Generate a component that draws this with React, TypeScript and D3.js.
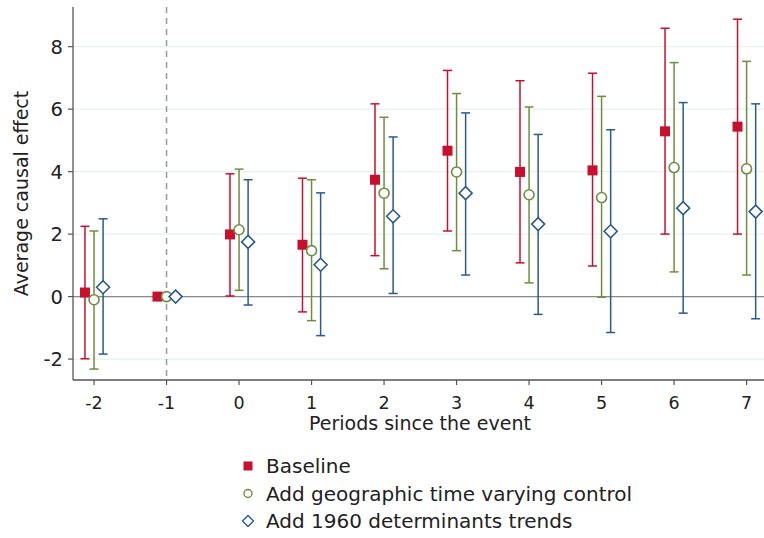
import React from "react";
import * as d3 from "d3";

// Event-time periods
const periods = [-2, -1, 0, 1, 2, 3, 4, 5, 6, 7];

// Baseline
const baseEst = [0.13, 0, 1.99, 1.66, 3.74, 4.67, 3.99, 4.04, 5.29, 5.44];
const baseLo = [-1.99, 0, 0.02, -0.49, 1.31, 2.1, 1.08, 0.98, 2.0, 2.0];
const baseHi = [2.25, 0, 3.93, 3.79, 6.17, 7.24, 6.91, 7.15, 8.59, 8.88];

// Add geographic time varying control
const geoEst = [-0.1, 0, 2.14, 1.47, 3.31, 3.99, 3.26, 3.17, 4.13, 4.09];
const geoLo = [-2.32, 0, 0.2, -0.77, 0.89, 1.47, 0.44, -0.02, 0.79, 0.69];
const geoHi = [2.1, 0, 4.08, 3.74, 5.74, 6.5, 6.07, 6.41, 7.49, 7.53];

// Add 1960 determinants trends
const trendEst = [0.3, 0, 1.75, 1.02, 2.57, 3.31, 2.32, 2.09, 2.83, 2.72];
const trendLo = [-1.84, 0, -0.27, -1.25, 0.1, 0.69, -0.57, -1.15, -0.53, -0.71];
const trendHi = [2.49, 0, 3.74, 3.32, 5.11, 5.88, 5.19, 5.34, 6.21, 6.17];

const yTicks = [-2, 0, 2, 4, 6, 8];
const seriesNames = [
  "Baseline",
  "Add geographic time varying control",
  "Add 1960 determinants trends",
];

const RED = "#c8102e";
const GREEN = "#6d8f3c";
const BLUE = "#2a5b8a";
const FONT = "DejaVu Sans";
const FS = 19.5;

const W = 764;
const H = 538;
const left = 73;
const top = 7;
const bottom = 380;

const x = d3.scaleLinear().domain([-2.29, 7.24]).range([left, W]);
const y = d3.scaleLinear().domain([-2.67, 9.27]).range([bottom, top]);

type Series = {
  name: string;
  est: number[];
  lo: number[];
  hi: number[];
  color: string;
  shape: "square" | "circle" | "diamond";
  offset: number;
};

const series: Series[] = [
  { name: seriesNames[0], est: baseEst, lo: baseLo, hi: baseHi, color: RED, shape: "square", offset: -0.125 },
  { name: seriesNames[1], est: geoEst, lo: geoLo, hi: geoHi, color: GREEN, shape: "circle", offset: 0 },
  { name: seriesNames[2], est: trendEst, lo: trendLo, hi: trendHi, color: BLUE, shape: "diamond", offset: 0.125 },
];

function Marker({ shape, cx, cy, color }: { shape: string; cx: number; cy: number; color: string }) {
  if (shape === "square") {
    return <rect x={cx - 5} y={cy - 5} width={10} height={10} fill={color} />;
  }
  if (shape === "circle") {
    return <circle cx={cx} cy={cy} r={5} fill="white" stroke={color} strokeWidth={1.6} />;
  }
  const r = 6.5;
  return (
    <path
      d={`M${cx},${cy - r}L${cx + r},${cy}L${cx},${cy + r}L${cx - r},${cy}Z`}
      fill="white"
      stroke={color}
      strokeWidth={1.6}
    />
  );
}

export default function App() {
  const cap = 4.5;
  return (
    <svg
      width={W}
      height={H}
      fontFamily={FONT}
      style={{ position: "absolute", left: 0, top: 0 }}
    >
      <rect width={W} height={H} fill="white" />
      {/* horizontal gridlines */}
      {yTicks.map((t) => (
        <line key={t} x1={left} x2={W} y1={y(t)} y2={y(t)} stroke="#e8f1f2" strokeWidth={1.2} />
      ))}
      {/* zero reference */}
      <line x1={left} x2={W} y1={y(0)} y2={y(0)} stroke="#8a8a8a" strokeWidth={1.2} />
      {/* event marker */}
      <line
        x1={x(-1)}
        x2={x(-1)}
        y1={top}
        y2={bottom}
        stroke="#999"
        strokeWidth={1.5}
        strokeDasharray="6,5"
      />
      {/* confidence intervals */}
      {series.map((s) =>
        periods.map((p, i) => {
          if (s.lo[i] === s.hi[i]) return null;
          const cx = x(p + s.offset);
          return (
            <g key={s.name + p} stroke={s.color} strokeWidth={1.5}>
              <line x1={cx} x2={cx} y1={y(s.lo[i])} y2={y(s.hi[i])} />
              <line x1={cx - cap} x2={cx + cap} y1={y(s.lo[i])} y2={y(s.lo[i])} />
              <line x1={cx - cap} x2={cx + cap} y1={y(s.hi[i])} y2={y(s.hi[i])} />
            </g>
          );
        })
      )}
      {/* point estimates */}
      {series.map((s) =>
        periods.map((p, i) => (
          <Marker key={s.name + "m" + p} shape={s.shape} cx={x(p + s.offset)} cy={y(s.est[i])} color={s.color} />
        ))
      )}
      {/* axes */}
      <line x1={left} x2={left} y1={top} y2={bottom} stroke="#555" strokeWidth={1.3} />
      <line x1={left} x2={W} y1={bottom} y2={bottom} stroke="#555" strokeWidth={1.3} />
      {yTicks.map((t) => (
        <g key={"yt" + t}>
          <line x1={left - 5} x2={left} y1={y(t)} y2={y(t)} stroke="#555" strokeWidth={1.2} />
          <text x={left - 10} y={y(t)} dy="0.36em" textAnchor="end" fontSize={FS} fill="#222" fontFamily={FONT}>
            {t}
          </text>
        </g>
      ))}
      {periods.map((p) => (
        <g key={"xt" + p}>
          <line x1={x(p)} x2={x(p)} y1={bottom} y2={bottom + 5} stroke="#555" strokeWidth={1.2} />
          <text x={x(p)} y={409} textAnchor="middle" fontSize={17.5} fill="#222" fontFamily={FONT}>
            {p}
          </text>
        </g>
      ))}
      <text x={420} y={430} textAnchor="middle" fontSize={19} fill="#222" fontFamily={FONT}>
        Periods since the event
      </text>
      <text
        transform={`translate(28,${(top + bottom) / 2}) rotate(-90)`}
        textAnchor="middle"
        fontSize={19}
        fill="#222"
        fontFamily={FONT}
      >
        Average causal effect
      </text>
      {/* legend */}
      {series.map((s, i) => {
        const ly = 466 + i * 27.5;
        return (
          <g key={"lg" + i}>
            {s.shape === "square" ? (
              <rect x={243.5} y={ly - 4.5} width={9} height={9} fill={s.color} />
            ) : s.shape === "circle" ? (
              <circle cx={248} cy={ly} r={4} fill="white" stroke={s.color} strokeWidth={1.4} />
            ) : (
              <path
                d={`M248,${ly - 5.5}L253.5,${ly}L248,${ly + 5.5}L242.5,${ly}Z`}
                fill="white"
                stroke={s.color}
                strokeWidth={1.4}
              />
            )}
            <text x={266} y={ly} dy="0.36em" fontSize={20} fill="#222" fontFamily={FONT}>
              {s.name}
            </text>
          </g>
        );
      })}
    </svg>
  );
}
